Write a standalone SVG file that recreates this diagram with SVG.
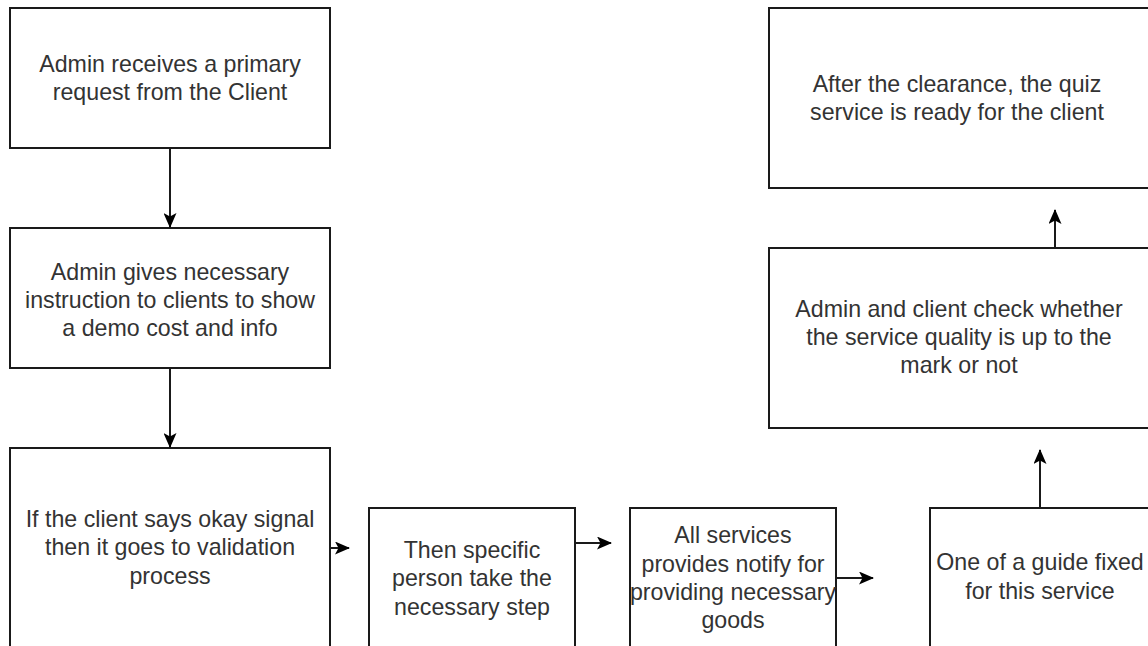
<svg xmlns="http://www.w3.org/2000/svg" width="1148" height="646" viewBox="0 0 1148 646">
<style>
.box{fill:#fff;stroke:#1a1a1a;stroke-width:2}
.lbl{font-family:"Liberation Sans",Arial,sans-serif;font-size:23.2px;fill:#333;text-anchor:middle}
.edge{stroke:#1a1a1a;stroke-width:2;fill:none}
</style>
<defs>
<marker id="arr" viewBox="0 0 15 13" refX="14" refY="6.5" markerWidth="15" markerHeight="13" markerUnits="userSpaceOnUse" orient="auto">
<path d="M0,0 L15,6.5 L0,13 L3.5,6.5 Z" fill="#000"/>
</marker>
</defs>
<rect width="1148" height="646" fill="#fff"/>
<g id="n1"><rect class="box" x="10" y="8" width="320" height="140"/>
<text class="lbl" x="170" y="72">Admin receives a primary</text>
<text class="lbl" x="170" y="100">request from the Client</text></g>
<g id="n2"><rect class="box" x="10" y="228" width="320" height="140"/>
<text class="lbl" x="170" y="280">Admin gives necessary</text>
<text class="lbl" x="170" y="308">instruction to clients to show</text>
<text class="lbl" x="170" y="336">a demo cost and info</text></g>
<g id="n3"><rect class="box" x="10" y="448" width="320" height="220"/>
<text class="lbl" x="170" y="527">If the client says okay signal</text>
<text class="lbl" x="170" y="555">then it goes to validation</text>
<text class="lbl" x="170" y="584">process</text></g>
<g id="n4"><rect class="box" x="369" y="508" width="206" height="160"/>
<text class="lbl" x="472" y="558">Then specific</text>
<text class="lbl" x="472" y="586">person take the</text>
<text class="lbl" x="472" y="615">necessary step</text></g>
<g id="n5"><rect class="box" x="630" y="508" width="206" height="160"/>
<text class="lbl" x="733" y="543">All services</text>
<text class="lbl" x="733" y="572">provides notify for</text>
<text class="lbl" x="733" y="600">providing necessary</text>
<text class="lbl" x="733" y="628">goods</text></g>
<g id="n6"><rect class="box" x="930" y="508" width="222" height="160"/>
<text class="lbl" x="1040" y="570">One of a guide fixed</text>
<text class="lbl" x="1040" y="599">for this service</text></g>
<g id="n7"><rect class="box" x="769" y="248" width="382" height="180"/>
<text class="lbl" x="959" y="317">Admin and client check whether</text>
<text class="lbl" x="959" y="345">the service quality is up to the</text>
<text class="lbl" x="959" y="373">mark or not</text></g>
<g id="n8"><rect class="box" x="769" y="8" width="382" height="180"/>
<text class="lbl" x="957" y="92">After the clearance, the quiz</text>
<text class="lbl" x="957" y="120">service is ready for the client</text></g>
<g id="connectors">
<line class="edge" x1="170" y1="148" x2="170" y2="227" marker-end="url(#arr)"/>
<line class="edge" x1="170" y1="368" x2="170" y2="447" marker-end="url(#arr)"/>
<line class="edge" x1="330" y1="548" x2="349" y2="548" marker-end="url(#arr)"/>
<line class="edge" x1="575" y1="543" x2="611" y2="543" marker-end="url(#arr)"/>
<line class="edge" x1="836" y1="578" x2="873" y2="578" marker-end="url(#arr)"/>
<line class="edge" x1="1040" y1="508" x2="1040" y2="450" marker-end="url(#arr)"/>
<line class="edge" x1="1055" y1="248" x2="1055" y2="210" marker-end="url(#arr)"/>
</g>
</svg>
